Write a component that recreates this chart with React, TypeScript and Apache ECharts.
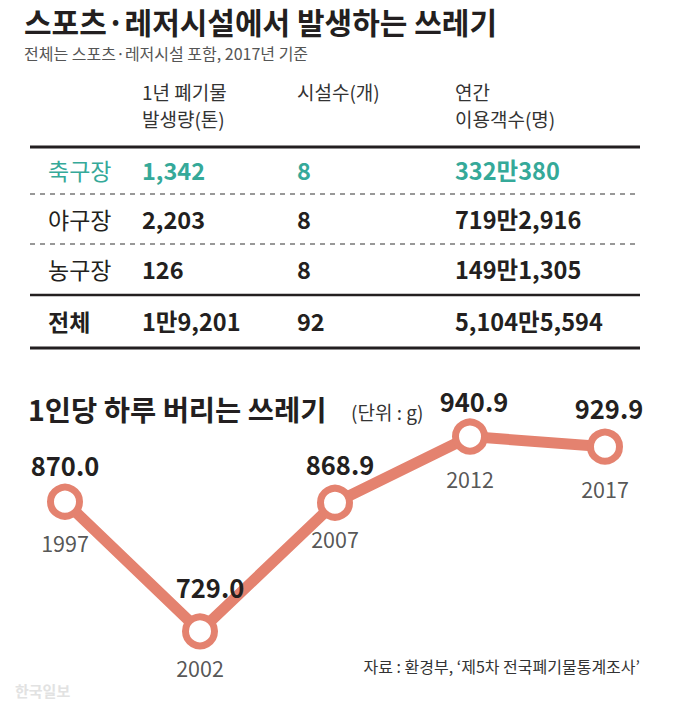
import React, { useEffect, useRef } from "react";
import * as echarts from "echarts";

const titleText = "스포츠·레저시설에서 발생하는 쓰레기";
const subtitleText = "전체는 스포츠·레저시설 포함, 2017년 기준";
const headerWaste = ["1년 폐기물", "발생량(톤)"];
const headerFacilities = ["시설수(개)"];
const headerVisitors = ["연간", "이용객수(명)"];
const rowNames = ["축구장", "야구장", "농구장", "전체"];
const wasteTons = ["1,342", "2,203", "126", "1만9,201"];
const facilities = ["8", "8", "8", "92"];
const visitors = ["332만380", "719만2,916", "149만1,305", "5,104만5,594"];

const chartTitle = "1인당 하루 버리는 쓰레기";
const unitText = "(단위 : g)";
const years = ["1997", "2002", "2007", "2012", "2017"];
const perCapita = [870.0, 729.0, 868.9, 940.9, 929.9];
const sourceText = "자료 : 환경부, ‘제5차 전국폐기물통계조사’";
const watermark = "한국일보";

const FONT = "'Noto Sans CJK KR', 'Noto Sans', sans-serif";
const TEAL = "#35a999";
const SALMON = "#e4826f";
const DARK = "#231f20";

export default function App() {
  const ref = useRef<HTMLDivElement>(null);

  useEffect(() => {
    if (!ref.current) return;
    const chart = echarts.init(ref.current, undefined, { renderer: "svg" });

    const colX = [48, 142, 297, 455];
    const rowY = [170, 219, 269, 321];
    const headerY = [91, 118];
    const graphics: any[] = [];
    const txt = (
      text: string,
      x: number,
      y: number,
      size: number,
      weight: string | number,
      fill: string,
      align = "left"
    ) => ({
      type: "text",
      x,
      y,
      style: {
        text,
        fontSize: size,
        fontWeight: weight,
        fontFamily: FONT,
        fill,
        align,
        verticalAlign: "middle",
      },
    });
    graphics.push(txt(titleText, 24, 21, 30, "bold", DARK));
    graphics.push(txt(subtitleText, 24, 53, 16, "normal", "#555"));
    headerWaste.forEach((t, i) => graphics.push(txt(t, colX[1], headerY[i], 19, "normal", "#333")));
    headerFacilities.forEach((t, i) => graphics.push(txt(t, colX[2], headerY[i], 19, "normal", "#333")));
    headerVisitors.forEach((t, i) => graphics.push(txt(t, colX[3], headerY[i], 19, "normal", "#333")));

    rowNames.forEach((name, i) => {
      const color = i === 0 ? TEAL : DARK;
      const isTotal = i === rowNames.length - 1;
      graphics.push(txt(name, colX[0], rowY[i], 23, isTotal ? "bold" : "normal", color));
      graphics.push(txt(wasteTons[i], colX[1], rowY[i], 23.5, "bold", color));
      graphics.push(txt(facilities[i], colX[2], rowY[i], 23.5, "bold", color));
      graphics.push(txt(visitors[i], colX[3], rowY[i], 23.5, "bold", color));
    });

    const hline = (y: number, w: number, dashed = false, color = DARK) => ({
      type: "line",
      shape: { x1: 30, y1: y, x2: 640, y2: y },
      style: { stroke: color, lineWidth: w, lineDash: dashed ? [5, 5] : null },
    });
    graphics.push(hline(147, 3));
    graphics.push(hline(194, 1.5, true, "#777"));
    graphics.push(hline(244, 1.5, true, "#777"));
    graphics.push(hline(295, 2.5));
    graphics.push(hline(348, 3));

    graphics.push(txt(chartTitle, 28, 408, 28.5, "bold", DARK));
    graphics.push(txt(unitText, 351, 411, 19, "normal", "#333"));
    graphics.push(txt(sourceText, 640, 666, 16, "normal", "#333", "right"));
    graphics.push(txt(watermark, 15, 690, 15, "bold", "#e2e2e2"));

    const valueOffsets = [[0, 0], [10, -8], [5, -2], [4, 1], [4, -2]];
    const yearOffsets = [[0, 2], [0, -3], [0, -3], [0, 3], [0, 3]];

    chart.setOption({
      animation: false,
      backgroundColor: "#fff",
      graphic: graphics,
      grid: { left: 65, right: 75, top: 419, height: 239 },
      xAxis: {
        type: "category",
        data: years,
        boundaryGap: false,
        show: false,
      },
      yAxis: { type: "value", min: 700, max: 960, show: false },
      series: [
        {
          type: "scatter",
          data: perCapita,
          symbolSize: 36,
          itemStyle: { color: "rgba(0,0,0,0)" },
          z: 1,
          label: {
            show: true,
            position: "bottom",
            distance: 10,
            formatter: (p: any) => years[p.dataIndex],
            fontSize: 21.5,
            fontFamily: FONT,
            color: "#2a2a2a",
          },
          labelLayout: (p: any) => ({ dx: yearOffsets[p.dataIndex][0], dy: yearOffsets[p.dataIndex][1] }),
        },
        {
          type: "line",
          data: perCapita,
          symbol: "circle",
          symbolSize: 29,
          z: 3,
          lineStyle: { color: SALMON, width: 11 },
          itemStyle: { color: "#fff", borderColor: SALMON, borderWidth: 7 },
          label: {
            show: true,
            position: "top",
            distance: 6,
            formatter: (p: any) => Number(p.value).toFixed(1),
            fontSize: 25.5,
            fontWeight: "bold",
            fontFamily: FONT,
            color: DARK,
          },
          labelLayout: (p: any) => ({ dx: valueOffsets[p.dataIndex][0], dy: valueOffsets[p.dataIndex][1] }),
        },
      ],
    });

    return () => chart.dispose();
  }, []);

  return (
    <div
      ref={ref}
      style={{ position: "fixed", left: 0, top: 0, width: 680, height: 713, background: "#fff" }}
    />
  );
}
